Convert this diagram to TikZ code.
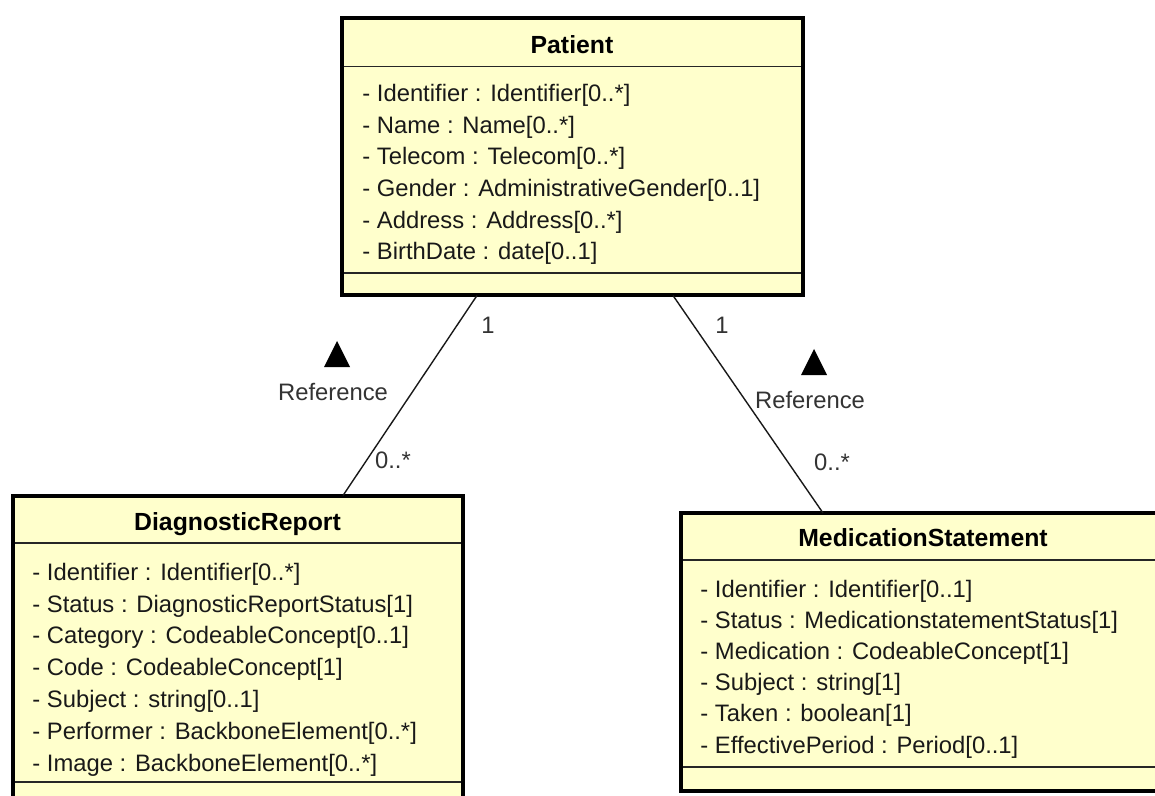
\documentclass[tikz,border=0pt]{standalone}
\usepackage{fontspec}
\setmainfont{Liberation Sans}
\definecolor{umlfill}{HTML}{FFFFCC}
\begin{document}
\begin{tikzpicture}[x=0.5pt,y=-0.5pt,
  box/.style={draw=black, fill=umlfill, line width=2pt, rectangle, inner sep=0pt, outer sep=0pt, anchor=north west},
  sep/.style={draw=black!85, line width=0.8pt},
  title/.style={font=\fontsize{12.4}{14}\selectfont\bfseries, anchor=base, inner sep=0pt},
  attr/.style={font=\fontsize{11.9}{14}\selectfont, anchor=base west, inner sep=0pt, text=black!90},
  lbl/.style={font=\fontsize{11.9}{14}\selectfont, inner sep=0pt, text=black!80},
  conn/.style={draw=black!90, line width=0.7pt},
  tri/.style={fill=black}]
\useasboundingbox (0,0) rectangle (1155,796);
\clip (0,0) rectangle (1155,796);

% boxes
\node[box, minimum width=230.5pt, minimum height=138.5pt] (patient) at (341.5,18.5) {};
\node[box, minimum width=225.25pt, minimum height=170pt] (dr) at (12.5,495.5) {};
\node[box, minimum width=242.75pt, minimum height=138.75pt] (ms) at (680.5,513) {};

% separators
\draw[sep] (343.5,66.7) -- (800.5,66.7);
\draw[sep] (343.5,273) -- (800.5,273);
\draw[sep] (14.5,542.7) -- (461,542.7);
\draw[sep] (14.5,781.7) -- (461,781.7);
\draw[sep] (682.5,560) -- (1160,560);
\draw[sep] (682.5,766.7) -- (1160,766.7);

% connectors
\draw[conn] ([xshift=67.75pt]patient.south west) -- ([xshift=165.25pt]dr.north west);
\draw[conn] ([xshift=165.75pt]patient.south west) -- ([xshift=71.25pt]ms.north west);

% titles
\node[title] (tp) at (572,53.3) {Patient};
\node[title] (tdr) at (237.5,530) {DiagnosticReport};
\node[title] (tms) at (923,546.7) {MedicationStatement};

% Patient attributes
\node[attr] (p1) at (362,101.7) {- Identifier : Identifier[0..*]};
\node[attr] (p2) at (362,133.4) {- Name : Name[0..*]};
\node[attr] (p3) at (362,165.0) {- Telecom : Telecom[0..*]};
\node[attr] (p4) at (362,196.7) {- Gender : AdministrativeGender[0..1]};
\node[attr] (p5) at (362,228.3) {- Address : Address[0..*]};
\node[attr] (p6) at (362,260.0) {- BirthDate : date[0..1]};

% DiagnosticReport attributes
\node[attr] (d1) at (32,580) {- Identifier : Identifier[0..*]};
\node[attr] (d2) at (32,612) {- Status : DiagnosticReportStatus[1]};
\node[attr] (d3) at (32,643.9) {- Category : CodeableConcept[0..1]};
\node[attr] (d4) at (32,675.9) {- Code : CodeableConcept[1]};
\node[attr] (d5) at (32,707.8) {- Subject : string[0..1]};
\node[attr] (d6) at (32,739.8) {- Performer : BackboneElement[0..*]};
\node[attr] (d7) at (32,771.7) {- Image : BackboneElement[0..*]};

% MedicationStatement attributes
\node[attr] (m1) at (700,597) {- Identifier : Identifier[0..1]};
\node[attr] (m2) at (700,628.2) {- Status : MedicationstatementStatus[1]};
\node[attr] (m3) at (700,659.4) {- Medication : CodeableConcept[1]};
\node[attr] (m4) at (700,690.6) {- Subject : string[1]};
\node[attr] (m5) at (700,721.8) {- Taken : boolean[1]};
\node[attr] (m6) at (700,753) {- EffectivePeriod : Period[0..1]};

% association labels
\node[lbl] (l1) at (488,325) {1};
\node[lbl] (lref) at (333,392) {Reference};
\node[lbl] (lm) at (393,460) {0..*};
\node[lbl] (r1) at (722,325) {1};
\node[lbl] (rref) at (810,400) {Reference};
\node[lbl] (rm) at (832,462) {0..*};

% direction triangles
\fill[tri] (337,341) -- (350,367) -- (324,367) -- cycle;
\fill[tri] (814,349) -- (827,375) -- (801,375) -- cycle;
\end{tikzpicture}
\end{document}
